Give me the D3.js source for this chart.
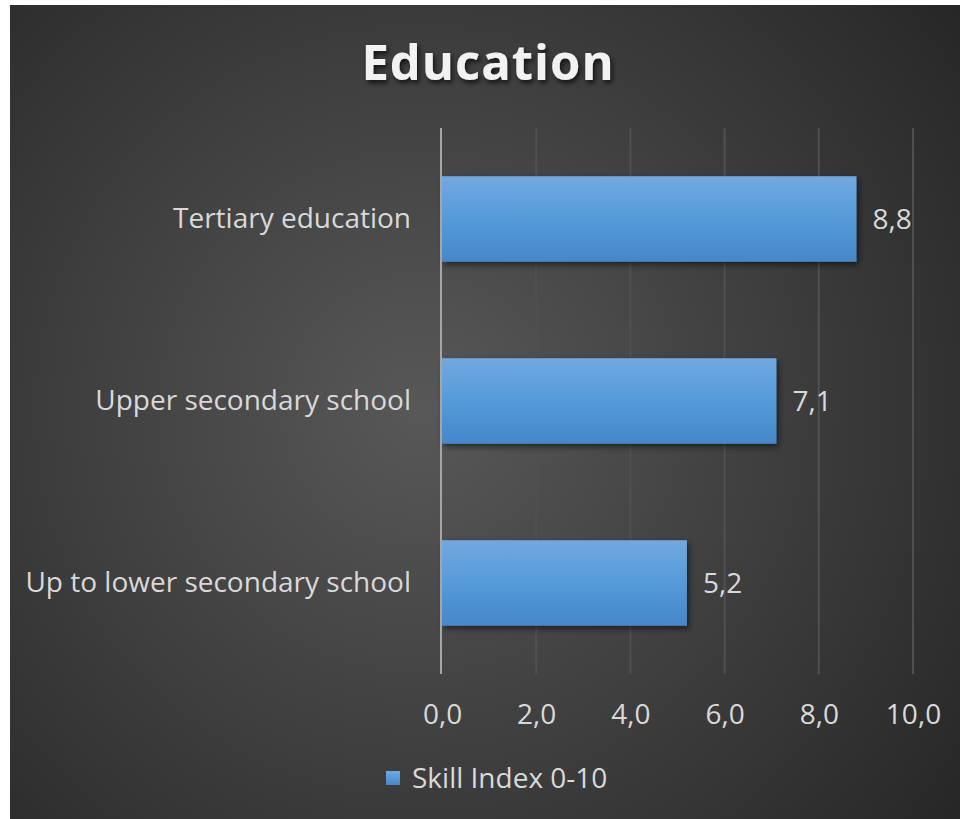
<!DOCTYPE html>
<html>
<head>
<meta charset="utf-8">
<script src="https://cdn.jsdelivr.net/npm/d3@7"></script>
<style>
  body { margin: 0; background: #fff; }
  text { font-family: "Open Sans", Lato, sans-serif; }
</style>
</head>
<body>
<div id="chart"></div>
<script>
// data
var categories = ["Tertiary education", "Upper secondary school", "Up to lower secondary school"];
var skillIndex = [8.8, 7.1, 5.2];
var tickValues = [0, 2, 4, 6, 8, 10];
var seriesName = "Skill Index 0-10";
var chartTitle = "Education";

var width = 960,
    height = 819,
    panel = {x: 10, y: 5, w: 950, h: 814},
    plot = {left: 442, right: 913, top: 128, bottom: 674},
    labelSize = "28px";

var fmt = function(v) { return d3.format(".1f")(v).replace(".", ","); };

var svg = d3.select("#chart").append("svg")
  .attr("width", width)
  .attr("height", height);

var defs = svg.append("defs");

var bg = defs.append("radialGradient")
  .attr("id", "bgGrad")
  .attr("gradientUnits", "userSpaceOnUse")
  .attr("cx", 420).attr("cy", 410).attr("r", 700);
bg.append("stop").attr("offset", "0%").attr("stop-color", "#585858");
bg.append("stop").attr("offset", "100%").attr("stop-color", "#252525");

var barGrad = defs.append("linearGradient")
  .attr("id", "barGrad")
  .attr("x1", 0).attr("y1", 0).attr("x2", 0).attr("y2", 1);
barGrad.append("stop").attr("offset", "0%").attr("stop-color", "#72a9df");
barGrad.append("stop").attr("offset", "50%").attr("stop-color", "#559ad9");
barGrad.append("stop").attr("offset", "100%").attr("stop-color", "#4587c9");

var shadow = defs.append("filter").attr("id", "barShadow")
  .attr("x", "-10%").attr("y", "-20%").attr("width", "130%").attr("height", "150%");
shadow.append("feDropShadow")
  .attr("dx", 2).attr("dy", 3).attr("stdDeviation", 3)
  .attr("flood-color", "#000").attr("flood-opacity", 0.55);

var titleShadow = defs.append("filter").attr("id", "titleShadow")
  .attr("x", "-10%").attr("y", "-20%").attr("width", "130%").attr("height", "150%");
titleShadow.append("feDropShadow")
  .attr("dx", 2).attr("dy", 3).attr("stdDeviation", 2.5)
  .attr("flood-color", "#000").attr("flood-opacity", 0.7);

svg.append("rect")
  .attr("x", panel.x).attr("y", panel.y)
  .attr("width", panel.w).attr("height", panel.h)
  .attr("fill", "url(#bgGrad)");

var x = d3.scaleLinear().domain([0, 10]).range([plot.left, plot.right]);
var y = d3.scaleBand().domain(categories).range([plot.top, plot.bottom]).paddingInner(0.53).paddingOuter(0.265);

// gridlines
svg.append("g").selectAll("line")
  .data(tickValues.slice(1))
  .enter().append("line")
  .attr("x1", d => x(d)).attr("x2", d => x(d))
  .attr("y1", plot.top).attr("y2", plot.bottom)
  .attr("stroke", "#505050")
  .attr("stroke-width", 2);

// bars
svg.append("g").selectAll("rect")
  .data(categories)
  .enter().append("rect")
  .attr("x", x(0))
  .attr("y", d => y(d))
  .attr("width", (d, i) => x(skillIndex[i]) - x(0))
  .attr("height", y.bandwidth())
  .attr("fill", "url(#barGrad)")
  .attr("filter", "url(#barShadow)");

// vertical axis line
svg.append("line")
  .attr("x1", x(0) - 1).attr("x2", x(0) - 1)
  .attr("y1", plot.top).attr("y2", plot.bottom)
  .attr("stroke", "#a6a6a6")
  .attr("stroke-width", 2);

// category labels
var yAxis = d3.axisLeft(y).tickSize(0).tickPadding(31);
var yg = svg.append("g")
  .attr("transform", `translate(${x(0)},0)`)
  .call(yAxis);
yg.select(".domain").remove();
yg.selectAll("text")
  .attr("fill", "#d9d9d9")
  .style("font-size", labelSize)
  .style("font-family", "'Open Sans', Lato, sans-serif");

// x tick labels
var xAxis = d3.axisBottom(x).tickValues(tickValues).tickFormat(fmt).tickSize(0).tickPadding(30);
var xg = svg.append("g")
  .attr("transform", `translate(0,${plot.bottom})`)
  .call(xAxis);
xg.select(".domain").remove();
xg.selectAll("text")
  .attr("fill", "#d9d9d9")
  .style("font-size", labelSize)
  .style("font-family", "'Open Sans', Lato, sans-serif");

// value labels
svg.append("g").selectAll("text")
  .data(categories)
  .enter().append("text")
  .attr("x", (d, i) => x(skillIndex[i]) + 16)
  .attr("y", d => y(d) + y.bandwidth() / 2)
  .attr("dy", "0.35em")
  .attr("fill", "#d9d9d9")
  .style("font-size", labelSize)
  .text((d, i) => fmt(skillIndex[i]));

// title
svg.append("text")
  .attr("x", 488)
  .attr("y", 80)
  .attr("text-anchor", "middle")
  .attr("fill", "#f2f2f2")
  .attr("filter", "url(#titleShadow)")
  .style("font-size", "49px")
  .style("font-weight", "bold")
  .style("letter-spacing", "1px")
  .text(chartTitle);

// legend
var legend = svg.append("g").attr("transform", "translate(386,771)");
legend.append("rect")
  .attr("width", 14).attr("height", 14)
  .attr("fill", "url(#barGrad)");
legend.append("text")
  .attr("x", 26).attr("y", 7)
  .attr("dy", "0.35em")
  .attr("fill", "#d9d9d9")
  .style("font-size", labelSize)
  .text(seriesName);
</script>
</body>
</html>
